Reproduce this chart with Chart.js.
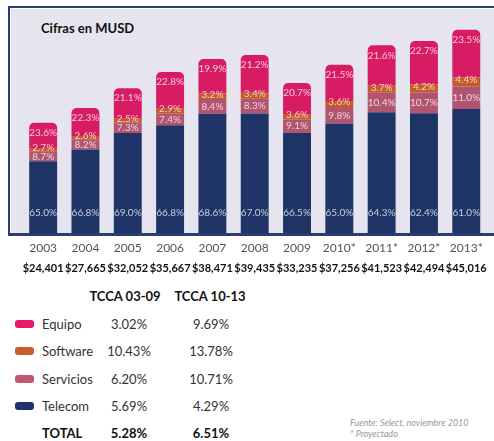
<!DOCTYPE html>
<html lang="es">
<head>
<meta charset="utf-8">
<script src="https://cdn.jsdelivr.net/npm/chart.js@4.4.1/dist/chart.umd.min.js"></script>
<style>
  html, body { margin: 0; padding: 0; background: #fff; }
  body { width: 494px; height: 441px; position: relative; overflow: hidden; font-family: Lato, 'Open Sans', sans-serif; color: #333; }
  .frame { position: absolute; left: 8px; top: 6px; width: 500px; height: 225px; background: #e6e4ee;
           border-left: 2px solid #2a3d6e; border-top: 2px solid #2a3d6e; border-bottom: 3px solid #2a3d6e;
           box-shadow: inset 1px 1px 0 #fff; }
  .title { position: absolute; left: 41px; top: 20px; font-weight: 700; font-size: 13px; color: #111; }
  #wrap { position: absolute; left: 0; top: 0; width: 494px; height: 280px; }
  .tbl { position: absolute; font-size: 13px; white-space: nowrap; }
  .hdr { font-weight: 700; color: #111; }
  .sw { position: absolute; width: 19px; height: 8px; border-radius: 3px; }
  .note { position: absolute; left: 350px; font-size: 9px; font-style: italic; color: #9a9a9a; }
</style>
</head>
<body>
<div class="frame"></div>
<div class="title">Cifras en MUSD</div>
<div id="wrap"><canvas id="chart"></canvas></div>
<div id="table"></div>
<div class="note" style="top:417px;">Fuente: Select, noviembre 2010</div>
<div class="note" style="top:428px;">* Proyectado</div>

<script>
// ─── datos ────────────────────────────────────────────────────────────
const years = ['2003', '2004', '2005', '2006', '2007', '2008', '2009', '2010*', '2011*', '2012*', '2013*'];
const totals = [24401, 27665, 32052, 35667, 38471, 39435, 33235, 37256, 41523, 42494, 45016];

// participación (%) de cada segmento en el total del año
const pctTelecom   = [65.0, 66.8, 69.0, 66.8, 68.6, 67.0, 66.5, 65.0, 64.3, 62.4, 61.0];
const pctServicios = [8.7, 8.2, 7.3, 7.4, 8.4, 8.3, 9.1, 9.8, 10.4, 10.7, 11.0];
const pctSoftware  = [2.7, 2.6, 2.5, 2.9, 3.2, 3.4, 3.6, 3.6, 3.7, 4.2, 4.4];
const pctEquipo    = [23.6, 22.3, 21.1, 22.8, 19.9, 21.2, 20.7, 21.5, 21.6, 22.7, 23.5];

// TCCA
const tccaNames = ['Equipo', 'Software', 'Servicios', 'Telecom'];
const tcca0309 = ['3.02%', '10.43%', '6.20%', '5.69%'];
const tcca1013 = ['9.69%', '13.78%', '10.71%', '4.29%'];
const tccaTotal = ['5.28%', '6.51%'];

const COLORS = { telecom: '#1f3466', servicios: '#b0546f', software: '#c55b28', equipo: '#d81c64' };
const SWATCH = ['#e8196b', '#cc5c2a', '#c05670', '#1f3468'];

const money = v => '$' + v.toLocaleString('en-US');
const part = pct => pct.map((p, i) => totals[i] * p / 100);

// ─── etiquetas de porcentaje dentro de las barras ─────────────────────
const pctLabels = {
  id: 'pctLabels',
  afterDatasetsDraw(chart) {
    const ctx = chart.ctx;
    ctx.save();
    ctx.font = '10px Lato, "Open Sans", sans-serif';
    ctx.textAlign = 'center';
    ctx.textBaseline = 'middle';
    chart.data.datasets.forEach((ds, di) => {
      chart.getDatasetMeta(di).data.forEach((bar, i) => {
        let y = (bar.y + bar.base) / 2;
        if (ds.labelAt === 'bottom') y = bar.base - 20;
        if (ds.labelAt === 'top') y = bar.y + 10;
        if (ds.labelAt === 'middle-up') y -= 2;
        ctx.fillStyle = ds.labelColor;
        ctx.fillText(ds.pct[i].toFixed(1) + '%', bar.x, y);
      });
    });
    ctx.restore();
  },
};

const dataset = (label, pct, color, labelColor, labelAt, extra) => Object.assign({
  label, pct, labelColor, labelAt,
  data: part(pct), backgroundColor: color, borderWidth: 0, xAxisID: 'x', stack: 's',
}, extra || {});

const flatTicks = { maxRotation: 0, minRotation: 0, autoSkip: false };

new Chart(document.getElementById('chart'), {
  type: 'bar',
  data: {
    labels: years,
    datasets: [
      dataset('Telecom', pctTelecom, COLORS.telecom, '#c9cde2', 'bottom'),
      dataset('Servicios', pctServicios, COLORS.servicios, '#f3d2de', 'middle'),
      dataset('Software', pctSoftware, COLORS.software, '#f4d6bd', 'middle-up'),
      dataset('Equipo', pctEquipo, COLORS.equipo, '#f8c6da', 'top',
        { borderRadius: { topLeft: 5, topRight: 5, bottomLeft: 0, bottomRight: 0 }, borderSkipped: 'bottom' }),
    ],
  },
  options: {
    responsive: true, maintainAspectRatio: false, animation: false,
    layout: { padding: { left: 22, right: 2, top: 7, bottom: 5 } },
    datasets: { bar: { categoryPercentage: 1, barPercentage: 0.66 } },
    plugins: { legend: { display: false }, tooltip: { enabled: false } },
    scales: {
      y: { display: false, stacked: true, min: 0, max: 50000 },
      x: {
        stacked: true, weight: 1,
        afterFit: s => { s.height = 22; },
        grid: { display: false, drawTicks: false }, border: { display: false },
        ticks: Object.assign({ padding: 8, color: '#555', font: { family: 'Lato', size: 12 } }, flatTicks),
      },
      x2: {
        type: 'category', labels: totals.map(money), position: 'bottom', weight: 2,
        afterFit: s => { s.height = 20; },
        grid: { display: false, drawTicks: false }, border: { display: false },
        ticks: Object.assign({ padding: 7, color: '#111', font: { family: 'Lato', size: 11, weight: 'bold' } }, flatTicks),
      },
    },
  },
  plugins: [pctLabels],
});

// ─── tabla TCCA ───────────────────────────────────────────────────────
function cell(text, x, y, cls, align) {
  const el = document.createElement('div');
  el.className = 'tbl ' + (cls || '');
  el.textContent = text;
  el.style.top = (y - 8) + 'px';
  if (align === 'center') { el.style.left = (x - 50) + 'px'; el.style.width = '100px'; el.style.textAlign = 'center'; }
  else el.style.left = x + 'px';
  document.getElementById('table').appendChild(el);
}

cell('TCCA 03-09', 125, 296, 'hdr', 'center');
cell('TCCA 10-13', 210, 296, 'hdr', 'center');
tccaNames.forEach((n, i) => {
  const y = 324 + i * 27.3;
  const sw = document.createElement('div');
  sw.className = 'sw';
  sw.style.left = '15px'; sw.style.top = (y - 4) + 'px'; sw.style.background = SWATCH[i];
  document.getElementById('table').appendChild(sw);
  cell(n, 42, y);
  cell(tcca0309[i], 129, y, '', 'center');
  cell(tcca1013[i], 211, y, '', 'center');
});
cell('TOTAL', 42, 433, 'hdr');
cell(tccaTotal[0], 129, 433, 'hdr', 'center');
cell(tccaTotal[1], 211, 433, 'hdr', 'center');
</script>
</body>
</html>
